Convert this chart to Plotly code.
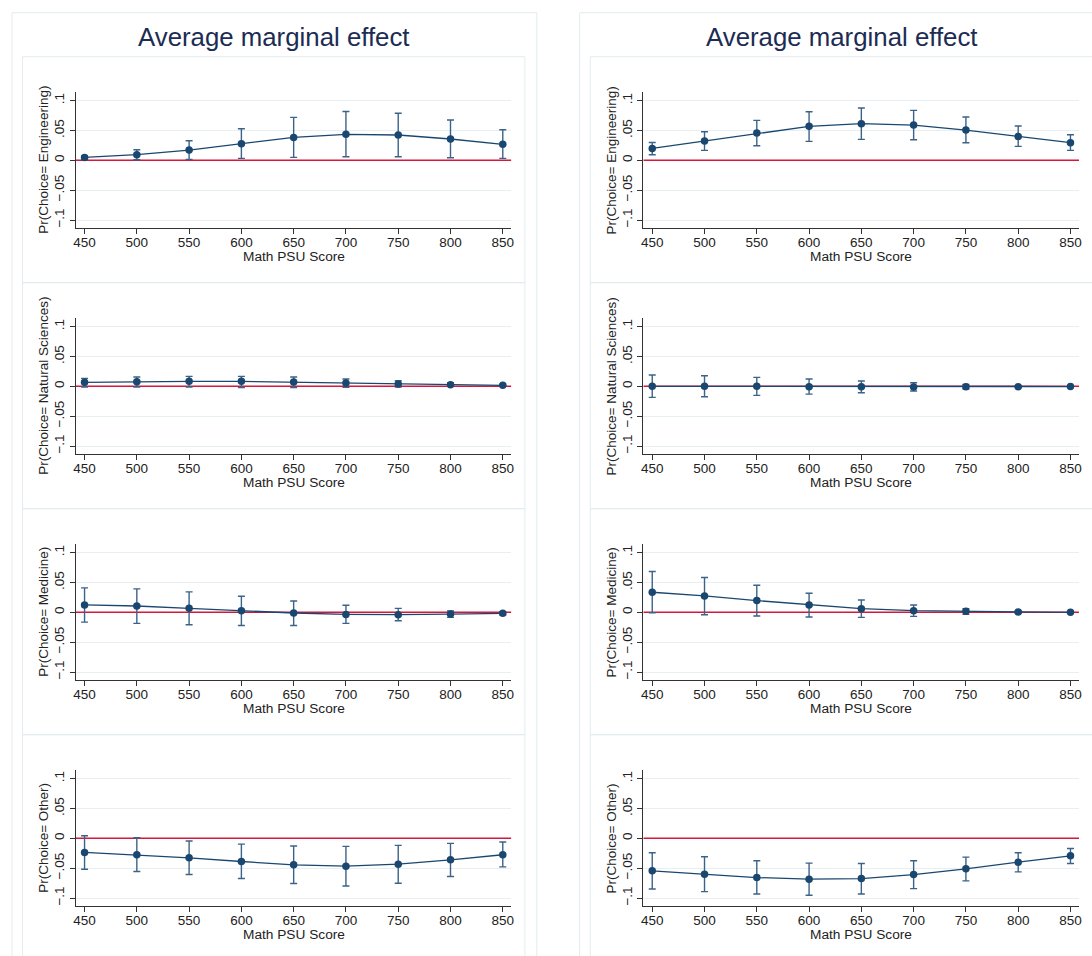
import plotly.graph_objects as go

W, H = 1092, 956

x_scores = [450, 500, 550, 600, 650, 700, 750, 800, 850]
x_ticks = [450, 500, 550, 600, 650, 700, 750, 800, 850]
x_range = [441.5, 858.2]
y_range = [-0.1139, 0.1141]
ref_level = 0.0
y_tickvals = [-0.1, -0.05, 0, 0.05, 0.1]
y_ticktext = ["\u2212.1", "\u2212.05", "0", ".05", ".1"]
panel_titles = ["Pr(Choice= Engineering)", "Pr(Choice= Natural Sciences)",
                "Pr(Choice= Medicine)", "Pr(Choice= Other)"]
column_title = "Average marginal effect"
x_title = "Math PSU Score"

# Left column
eng_l_est = [0.005, 0.0095, 0.0173, 0.028, 0.0385, 0.0436, 0.0425, 0.0358, 0.0268]
eng_l_hi = [0.0078, 0.0179, 0.033, 0.053, 0.072, 0.082, 0.079, 0.0676, 0.0514]
eng_l_lo = [0.0022, 0.001, 0.0017, 0.0034, 0.005, 0.006, 0.006, 0.0045, 0.0034]

nat_l_est = [0.0067, 0.0078, 0.0084, 0.0084, 0.0073, 0.0056, 0.0039, 0.0028, 0.0017]
nat_l_hi = [0.0134, 0.0156, 0.0168, 0.0168, 0.0156, 0.0123, 0.0095, 0.006, 0.0034]
nat_l_lo = [-0.001, -0.001, -0.001, -0.002, -0.002, -0.0017, -0.001, 0.0, 0.0]

med_l_est = [0.0124, 0.0107, 0.0067, 0.0028, -0.0011, -0.0034, -0.0039, -0.0028, -0.0017]
med_l_hi = [0.041, 0.0393, 0.0343, 0.027, 0.019, 0.0118, 0.0067, 0.0022, 0.0011]
med_l_lo = [-0.0163, -0.0185, -0.0208, -0.022, -0.022, -0.0185, -0.014, -0.0084, -0.0045]

oth_l_est = [-0.0236, -0.0275, -0.0326, -0.0388, -0.0444, -0.0466, -0.0433, -0.036, -0.0275]
oth_l_hi = [0.0045, 0.0011, -0.0045, -0.0096, -0.0129, -0.0135, -0.0118, -0.0084, -0.0062]
oth_l_lo = [-0.0517, -0.0556, -0.0607, -0.0674, -0.0758, -0.0798, -0.0753, -0.064, -0.0478]

# Right column
eng_r_est = [0.020, 0.0324, 0.0458, 0.057, 0.0615, 0.0592, 0.0508, 0.0402, 0.0296]
eng_r_hi = [0.030, 0.048, 0.067, 0.0816, 0.0877, 0.0838, 0.0726, 0.0575, 0.043]
eng_r_lo = [0.0095, 0.0168, 0.0246, 0.0318, 0.0352, 0.0346, 0.0296, 0.0235, 0.0168]

nat_r_est = [0.0, 0.0, 0.0, -0.0006, -0.0006, -0.001, -0.0006, -0.0006, -0.0003]
nat_r_hi = [0.019, 0.0179, 0.0151, 0.0123, 0.009, 0.006, 0.0034, 0.001, 0.0005]
nat_r_lo = [-0.0184, -0.0173, -0.0151, -0.013, -0.0106, -0.0078, -0.0045, -0.002, -0.001]

med_r_est = [0.0337, 0.0275, 0.0197, 0.0124, 0.0062, 0.0028, 0.0017, 0.0006, 0.0]
med_r_hi = [0.0685, 0.0584, 0.0455, 0.032, 0.0208, 0.0124, 0.0062, 0.0028, 0.001]
med_r_lo = [-0.0006, -0.0039, -0.0062, -0.0079, -0.0084, -0.0067, -0.0034, -0.0017, -0.001]

oth_r_est = [-0.0545, -0.0601, -0.0657, -0.0685, -0.0674, -0.0607, -0.0511, -0.0399, -0.0292]
oth_r_hi = [-0.0242, -0.0309, -0.0376, -0.0416, -0.0421, -0.0376, -0.0315, -0.0242, -0.0169]
oth_r_lo = [-0.0848, -0.0893, -0.0933, -0.0955, -0.0933, -0.0843, -0.0713, -0.0562, -0.0421]

columns = [
    [(eng_l_est, eng_l_lo, eng_l_hi), (nat_l_est, nat_l_lo, nat_l_hi),
     (med_l_est, med_l_lo, med_l_hi), (oth_l_est, oth_l_lo, oth_l_hi)],
    [(eng_r_est, eng_r_lo, eng_r_hi), (nat_r_est, nat_r_lo, nat_r_hi),
     (med_r_est, med_r_lo, med_r_hi), (oth_r_est, oth_r_lo, oth_r_hi)],
]

NAVY = "#1a476f"
CAP = "#3b6389"
RED = "#d3173d"
GRID = "#e8eff2"
BOX = "#e3ecef"
TITLE_C = "#1c2c53"
TXT = "#222222"
FONT = "Liberation Sans, Arial, sans-serif"

def px(xp):
    return xp / W

def py(yp):
    return 1 - yp / H

col_offset = 570.3
axis_left0, axis_right0 = 74.0, 511.7
panel_top0, panel_h, panel_step = 92.3, 136.0, 226.0

fig = go.Figure()
shapes = []
annotations = []

n = 0
for c in range(2):
    dx = c * col_offset
    shapes.append(dict(type="rect", xref="paper", yref="paper",
                       x0=px(10 + dx), x1=px(537.3 + dx), y0=py(12.7), y1=py(990),
                       line=dict(color=BOX, width=1), fillcolor="rgba(0,0,0,0)", layer="below"))
    annotations.append(dict(text=column_title, xref="paper", yref="paper",
                            x=px(273.6 + dx), y=py(36.5), xanchor="center", yanchor="middle",
                            showarrow=False, font=dict(family=FONT, size=25.8, color=TITLE_C)))
    for r in range(4):
        n += 1
        est, lo, hi = columns[c][r]
        plus = [h - e for h, e in zip(hi, est)]
        minus = [e - l for e, l in zip(est, lo)]
        xa = "x" if n == 1 else f"x{n}"
        ya = "y" if n == 1 else f"y{n}"
        top = panel_top0 + r * panel_step
        bot = top + panel_h
        shapes.append(dict(type="rect", xref="paper", yref="paper",
                           x0=px(20.7 + dx), x1=px(525.3 + dx),
                           y0=py(56.7 + r * panel_step), y1=py(282.7 + r * panel_step),
                           line=dict(color=BOX, width=1), fillcolor="rgba(0,0,0,0)", layer="below"))
        # zero reference line (drawn under the estimates)
        fig.add_trace(go.Scatter(
            x=x_range, y=[ref_level, ref_level], xaxis=xa, yaxis=ya, mode="lines",
            line=dict(color=RED, width=1.5), showlegend=False, hoverinfo="skip",
            cliponaxis=False))
        fig.add_trace(go.Scatter(
            x=x_scores, y=est, xaxis=xa, yaxis=ya, mode="lines+markers",
            line=dict(color=NAVY, width=1.3),
            marker=dict(color=NAVY, size=7.5, symbol="circle"),
            error_y=dict(type="data", symmetric=False, array=plus, arrayminus=minus,
                         color=CAP, thickness=1.4, width=3.5),
            showlegend=False, hoverinfo="x+y"))
        ax_common = dict(showline=True, linecolor="#333333", linewidth=1.2,
                         ticks="outside", ticklen=5, tickcolor="#333333", tickwidth=1,
                         tickfont=dict(family=FONT, size=13.5, color=TXT), zeroline=False)
        fig.layout[("xaxis" if n == 1 else f"xaxis{n}")] = dict(
            domain=[px(axis_left0 + dx), px(axis_right0 + dx)], anchor=ya,
            range=x_range, tickvals=x_ticks, showgrid=False,
            ticklabelstandoff=-4, **ax_common)
        fig.layout[("yaxis" if n == 1 else f"yaxis{n}")] = dict(
            domain=[py(bot), py(top)], anchor=xa, range=y_range,
            tickvals=y_tickvals, ticktext=y_ticktext, tickangle=-90,
            showgrid=True, gridcolor=GRID, gridwidth=1, **ax_common)
        annotations.append(dict(text=panel_titles[r], xref="paper", yref="paper",
                                x=px(41.7 + dx), y=py((top + bot) / 2), textangle=-90,
                                xanchor="center", yanchor="middle", showarrow=False,
                                font=dict(family=FONT, size=13.5, color=TXT)))
        annotations.append(dict(text=x_title, xref="paper", yref="paper",
                                x=px((axis_left0 + axis_right0) / 2 + dx), y=py(bot + 28.6),
                                xanchor="center", yanchor="middle", showarrow=False,
                                font=dict(family=FONT, size=13.7, color=TXT)))

fig.update_layout(width=W, height=H, margin=dict(l=0, r=0, t=0, b=0),
                  paper_bgcolor="white", plot_bgcolor="white",
                  shapes=shapes, annotations=annotations, showlegend=False)
fig.write_html("out.html")
